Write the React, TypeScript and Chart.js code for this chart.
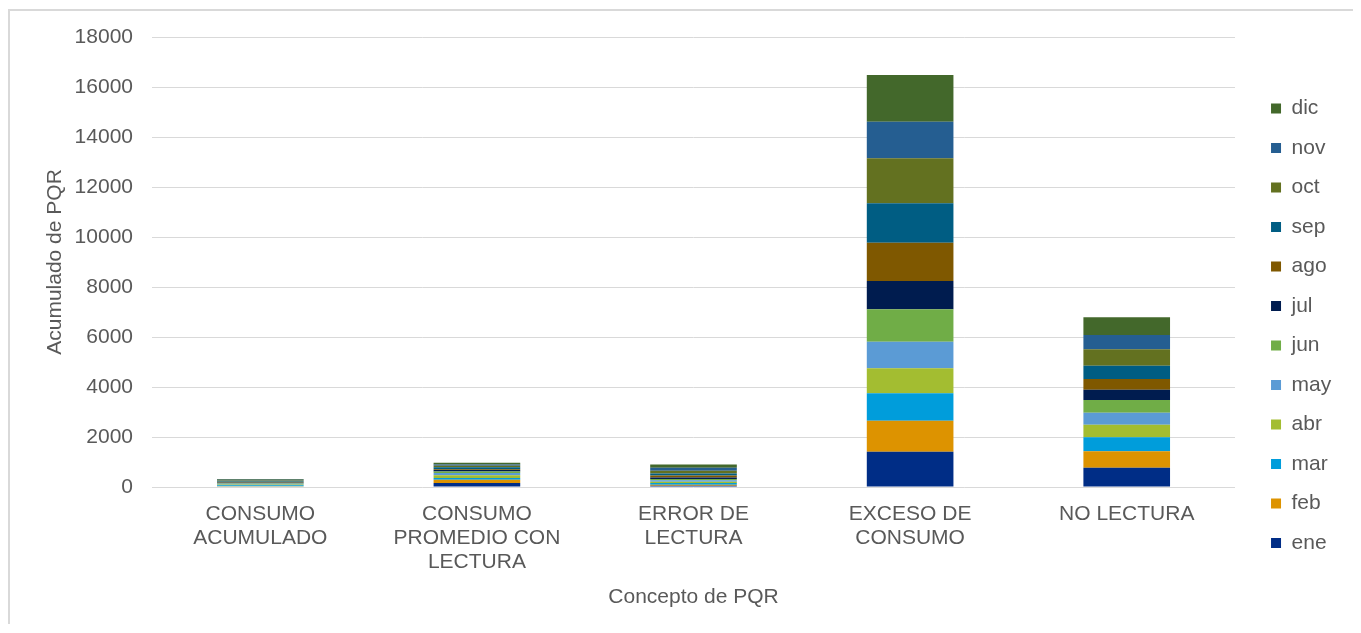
import React, { useEffect, useRef } from "react";
import { Chart, registerables } from "chart.js";

Chart.register(...registerables);

const categories: (string | string[])[] = [
  ["CONSUMO", "ACUMULADO"],
  ["CONSUMO", "PROMEDIO CON", "LECTURA"],
  ["ERROR DE", "LECTURA"],
  ["EXCESO DE", "CONSUMO"],
  "NO LECTURA",
];

const months = ["ene", "feb", "mar", "abr", "may", "jun", "jul", "ago", "sep", "oct", "nov", "dic"];

const ene = [20, 160, 50, 1410, 772];
const feb = [15, 130, 40, 1240, 656];
const mar = [40, 70, 70, 1096, 560];
const abr = [25, 110, 50, 1000, 504];
const may = [30, 90, 60, 1064, 480];
const jun = [25, 60, 50, 1296, 508];
const jul = [20, 60, 60, 1132, 412];
const ago = [20, 30, 80, 1532, 428];
const sep = [30, 80, 80, 1576, 532];
const oct = [35, 60, 110, 1800, 656];
const nov = [30, 50, 120, 1464, 572];
const dic = [30, 70, 130, 1868, 708];

const seriesValues = [ene, feb, mar, abr, may, jun, jul, ago, sep, oct, nov, dic];

const colors = [
  "#002D86",
  "#DD9300",
  "#009DDB",
  "#A3BD31",
  "#5B9BD5",
  "#70AD47",
  "#001C4F",
  "#7F5800",
  "#005D83",
  "#637120",
  "#255E91",
  "#43682B",
];

const yTicks = { min: 0, max: 18000, step: 2000 };

const yTitle = "Acumulado de PQR";
const xTitle = "Concepto de PQR";

const FONT = "'Liberation Sans', Arial, sans-serif";
const TEXT = "#595959";

export default function App() {
  const canvasRef = useRef<HTMLCanvasElement | null>(null);

  useEffect(() => {
    if (!canvasRef.current) return;
    Chart.defaults.font.family = FONT;
    const chart = new Chart(canvasRef.current, {
      type: "bar",
      data: {
        labels: categories,
        datasets: months.map((m, i) => ({
          label: m,
          data: seriesValues[i],
          backgroundColor: colors[i],
          borderWidth: 0,
          categoryPercentage: 0.4,
          barPercentage: 1,
        })),
      },
      options: {
        animation: false,
        responsive: true,
        maintainAspectRatio: false,
        layout: { padding: { top: 26, bottom: 10.4, left: 32.4, right: 13.8 } },
        plugins: {
          tooltip: { enabled: false },
          legend: {
            position: "right",
            reverse: true,
            labels: {
              boxWidth: 10,
              boxHeight: 10,
              padding: 18.5,
              color: TEXT,
              font: { size: 21, family: FONT },
            },
          },
        },
        scales: {
          x: {
            stacked: true,
            grid: { display: false },
            border: { display: false },
            ticks: {
              autoSkip: false,
              maxRotation: 0,
              minRotation: 0,
              padding: 7,
              color: TEXT,
              font: { size: 21, family: FONT, lineHeight: 1.143 },
            },
            title: {
              display: true,
              text: xTitle,
              color: TEXT,
              padding: { top: 0, bottom: 5 },
              font: { size: 21, family: FONT, lineHeight: 1.2 },
            },
            afterFit: (s: any) => {
              s.height = 127.6;
            },
          },
          y: {
            stacked: true,
            min: yTicks.min,
            max: yTicks.max,
            grid: { color: "#d9d9d9", lineWidth: 1, drawTicks: false },
            border: { display: false },
            ticks: {
              stepSize: yTicks.step,
              padding: 19,
              color: TEXT,
              font: { size: 21, family: FONT },
              callback: (v: any) => String(v),
            },
            title: {
              display: true,
              text: yTitle,
              color: TEXT,
              padding: 0,
              font: { size: 21, family: FONT, lineHeight: 1.2 },
            },
            afterFit: (s: any) => {
              s.width = 109.6;
              s.paddingTop = 0;
              s.paddingBottom = 0;
            },
          },
          pad: {
            type: "linear",
            position: "right",
            display: true,
            grid: { display: false },
            border: { display: false },
            ticks: { display: false },
            afterFit: (s: any) => {
              s.width = 17.5;
              s.paddingTop = 0;
              s.paddingBottom = 0;
            },
          },
        },
      } as any,
    });
    return () => chart.destroy();
  }, []);

  return (
    <div
      style={{
        position: "relative",
        top: 1,
        width: 1349,
        height: 616,
        border: "2px solid #d9d9d9",
        borderBottom: "none",
        boxSizing: "border-box",
        background: "#ffffff",
      }}
    >
      <div style={{ position: "relative", width: 1345, height: 614 }}>
        <canvas ref={canvasRef} />
      </div>
    </div>
  );
}
